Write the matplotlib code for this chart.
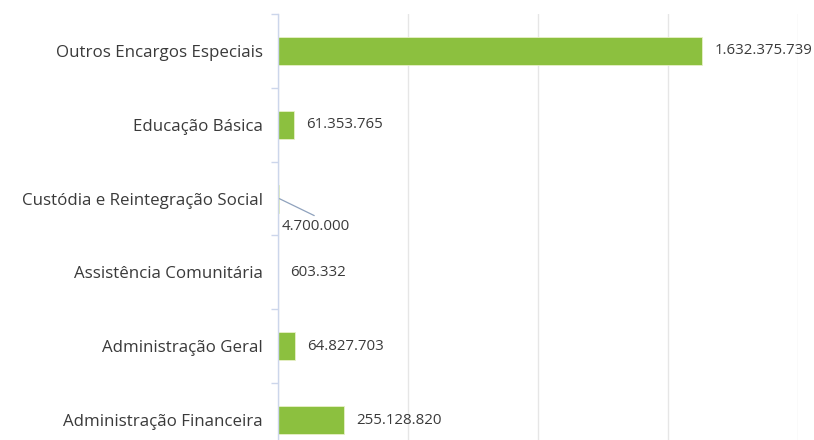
import matplotlib
matplotlib.use("Agg")
import matplotlib.pyplot as plt
from matplotlib.ticker import FixedLocator, NullFormatter

# spending by programme (values in currency units)
categories = [
    "Outros Encargos Especiais",
    "Educação Básica",
    "Custódia e Reintegração Social",
    "Assistência Comunitária",
    "Administração Geral",
    "Administração Financeira",
]
values = [1632375739, 61353765, 4700000, 603332, 64827703, 255128820]
grid_ticks = [0, 500_000_000, 1_000_000_000, 1_500_000_000, 2_000_000_000]

bar_color = "#8cc03f"
text_color = "#3a3a3a"
axis_color = "#ccd6eb"
grid_color = "#e6e6e6"

plt.rcParams["font.family"] = ["Open Sans", "DejaVu Sans"]


def fmt(v):
    return f"{v:,}".replace(",", ".")


fig = plt.figure(figsize=(8.14, 4.4), dpi=100)
ax = fig.add_axes([278 / 814, 1 - 457 / 440, 520 / 814, 443 / 440])

pos = list(range(len(categories)))
ax.barh(pos, values, height=0.38, color=bar_color, edgecolor="#e8f0c8",
        linewidth=0.6, zorder=3)

ax.set_xlim(0, grid_ticks[-1])
ax.set_ylim(len(categories) - 0.5, -0.5)

# vertical grid, no x labels
ax.set_xticks(grid_ticks)
ax.tick_params(axis="x", length=0, labelbottom=False)
ax.grid(axis="x", color=grid_color, linewidth=1, zorder=0)

# category labels at the centres, small ticks at the band edges
ax.set_yticks(pos)
ax.set_yticklabels(categories, fontsize=12.2, color=text_color)
ax.tick_params(axis="y", which="major", length=0, pad=11)
ax.yaxis.set_minor_locator(FixedLocator([p - 0.5 for p in pos]))
ax.yaxis.set_minor_formatter(NullFormatter())
ax.tick_params(axis="y", which="minor", length=5, width=1, color=axis_color)

for s in ["top", "right", "bottom"]:
    ax.spines[s].set_visible(False)
ax.spines["left"].set_color(axis_color)
ax.spines["left"].set_linewidth(1)
ax.spines["left"].set_zorder(4)

# value labels
for i, v in enumerate(values):
    if categories[i] == "Custódia e Reintegração Social":
        # label pushed below with a leader line
        ax.annotate("", xy=(v, i), xytext=(35, -17), textcoords="offset pixels",
                    arrowprops=dict(arrowstyle="-", color="#8fa2bd", lw=0.9,
                                    shrinkA=0, shrinkB=0))
        ax.annotate(fmt(v), xy=(v, i), xytext=(2, -28), textcoords="offset pixels",
                    ha="left", va="center", fontsize=10.8, color=text_color)
    else:
        ax.annotate(fmt(v), xy=(v, i), xytext=(12, 0), textcoords="offset pixels",
                    ha="left", va="center", fontsize=10.8, color=text_color)

fig.savefig("out.png", dpi=100)
